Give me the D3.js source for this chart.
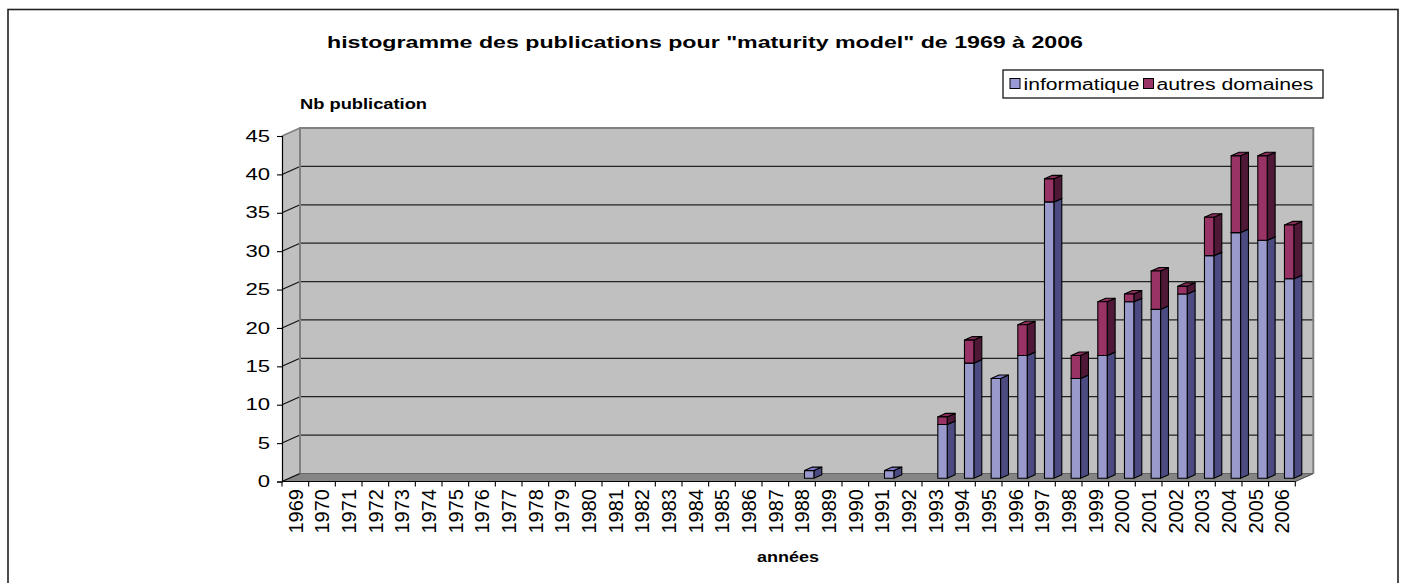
<!DOCTYPE html>
<html>
<head>
<meta charset="utf-8">
<script src="https://cdn.jsdelivr.net/npm/d3@7"></script>
<style>
  html, body { margin: 0; padding: 0; background: #fff; }
  svg { display: block; font-family: "Liberation Sans", Arial, sans-serif; }
</style>
</head>
<body>
<svg id="chart" width="1405" height="583"></svg>
<script>
// Publication counts for "maturity model", per year
const years = ["1969","1970","1971","1972","1973","1974","1975","1976","1977","1978",
  "1979","1980","1981","1982","1983","1984","1985","1986","1987","1988",
  "1989","1990","1991","1992","1993","1994","1995","1996","1997","1998",
  "1999","2000","2001","2002","2003","2004","2005","2006"];
const informatique = [0,0,0,0,0,0,0,0,0,0, 0,0,0,0,0,0,0,0,0,1,
  0,0,1,0,7,15,13,16,36,13, 16,23,22,24,29,32,31,26];
const autresDomaines = [0,0,0,0,0,0,0,0,0,0, 0,0,0,0,0,0,0,0,0,0,
  0,0,0,0,1,3,0,4,3,3, 7,1,5,1,5,10,11,7];
const yTicks = [0,5,10,15,20,25,30,35,40,45];
const seriesNames = ["informatique", "autres domaines"];

const svg = d3.select("#chart");

// colours of each series: front face, side face, top face
const palette = [
  { front: "#9999cc", side: "#4b4b82", top: "#7c7cc6", swatch: "#9999d6" },
  { front: "#993366", side: "#4f1836", top: "#8a2d5b", swatch: "#993366" }
];

// oblique depth of the 3D box
const DX = 18, DY = 8;
const x = d3.scaleBand().domain(years).range([282, 1295.3]);
const y = d3.scaleLinear().domain([0, 45]).range([481.5, 136]);
const x0 = x.range()[0], x1 = x.range()[1];

// outer frame
svg.append("rect")
  .attr("x", 8).attr("y", 9.5).attr("width", 1390).attr("height", 600)
  .attr("fill", "none").attr("stroke", "#222").attr("stroke-width", 1.6);

// title
svg.append("text")
  .attr("x", 327).attr("y", 47.5)
  .attr("font-size", 17).attr("font-weight", "bold")
  .attr("textLength", 756).attr("lengthAdjust", "spacingAndGlyphs")
  .text("histogramme des publications pour \"maturity model\" de 1969 à 2006");

// y axis title
svg.append("text")
  .attr("x", 300).attr("y", 109)
  .attr("font-size", 15).attr("font-weight", "bold")
  .attr("textLength", 127).attr("lengthAdjust", "spacingAndGlyphs")
  .text("Nb publication");

// x axis title
svg.append("text")
  .attr("x", 757).attr("y", 562)
  .attr("font-size", 15).attr("font-weight", "bold")
  .attr("textLength", 62).attr("lengthAdjust", "spacingAndGlyphs")
  .text("années");

// walls
const walls = svg.append("g");
// back wall
walls.append("rect")
  .attr("x", x0 + DX).attr("y", y(45) - DY)
  .attr("width", x1 - x0).attr("height", y(0) - y(45))
  .attr("fill", "#c0c0c0");
// side wall
walls.append("polygon")
  .attr("points", [[x0, y(45)], [x0 + DX, y(45) - DY], [x0 + DX, y(0) - DY], [x0, y(0)]].join(" "))
  .attr("fill", "#c0c0c0");
// floor
walls.append("polygon")
  .attr("points", [[x0, y(0)], [x0 + DX, y(0) - DY], [x1 + DX, y(0) - DY], [x1, y(0)]].join(" "))
  .attr("fill", "#858585").attr("stroke", "#666").attr("stroke-width", 1);

// gridlines on back wall and their continuation on the side wall
yTicks.filter(v => v > 0 && v < 45).forEach(v => {
  walls.append("line")
    .attr("x1", x0 + DX).attr("x2", x1 + DX)
    .attr("y1", y(v) - DY).attr("y2", y(v) - DY)
    .attr("stroke", "#222").attr("stroke-width", 1.2);
});
yTicks.forEach(v => {
  walls.append("line")
    .attr("x1", x0).attr("y1", y(v))
    .attr("x2", x0 + DX).attr("y2", y(v) - DY)
    .attr("stroke", v === 45 ? "#808080" : "#111").attr("stroke-width", v === 45 ? 1.6 : 1.1);
});

// wall edges
walls.append("path")
  .attr("d", `M${x0 + DX},${y(0) - DY}V${y(45) - DY}H${x1 + DX}V${y(0) - DY}`)
  .attr("fill", "none").attr("stroke", "#808080").attr("stroke-width", 2);

// bars
const bw = 9.4;          // front face width
const dFront = 0.4, dBack = 0.84;   // depth slice occupied by bars
const sdx = (dBack - dFront) * DX, sdy = (dBack - dFront) * DY;
const series = [informatique, autresDomaines];
const bars = svg.append("g").attr("stroke", "#000").attr("stroke-width", 1.1).attr("stroke-linejoin", "round");

years.forEach((yr, i) => {
  let base = 0;
  series.forEach((vals, s) => {
    const v = vals[i];
    if (v <= 0) return;
    const c = palette[s];
    const left = x(yr) + x.bandwidth() / 2 - bw / 2 + dFront * DX;
    const right = left + bw;
    const yb = y(base) - dFront * DY;
    const yt = y(base + v) - dFront * DY;
    const g = bars.append("g");
    // side face
    g.append("polygon")
      .attr("points", [[right, yb], [right + sdx, yb - sdy], [right + sdx, yt - sdy], [right, yt]].join(" "))
      .attr("fill", c.side);
    // top face
    g.append("polygon")
      .attr("points", [[left, yt], [right, yt], [right + sdx, yt - sdy], [left + sdx, yt - sdy]].join(" "))
      .attr("fill", c.top);
    // front face
    g.append("rect")
      .attr("x", left).attr("y", yt)
      .attr("width", bw).attr("height", yb - yt)
      .attr("fill", c.front);
    base += v;
  });
});

// floor front-right edge
svg.append("line")
  .attr("x1", x1).attr("y1", y(0)).attr("x2", x1 + DX).attr("y2", y(0) - DY)
  .attr("stroke", "#555").attr("stroke-width", 1);

// value axis
const yAxis = svg.append("g")
  .attr("transform", `translate(${x0},0)`)
  .call(d3.axisLeft(y).tickValues(yTicks).tickSize(5).tickPadding(7).tickFormat(d3.format("d")));
yAxis.select(".domain").attr("stroke", "#000").attr("stroke-width", 1.2);
yAxis.selectAll(".tick line").attr("stroke", "#000").attr("stroke-width", 1.1);
yAxis.selectAll(".tick text")
  .attr("font-family", "'Liberation Sans', Arial, sans-serif")
  .attr("font-size", 16).attr("fill", "#000")
  .attr("textLength", d => String(d).length * 12.3)
  .attr("lengthAdjust", "spacingAndGlyphs");

// category axis
const xAxis = svg.append("g");
xAxis.append("line")
  .attr("x1", x0).attr("x2", x1).attr("y1", y(0)).attr("y2", y(0))
  .attr("stroke", "#000").attr("stroke-width", 1.2);
years.concat(["end"]).forEach((yr, i) => {
  const px = i < years.length ? x(yr) : x1;
  xAxis.append("line")
    .attr("x1", px).attr("x2", px).attr("y1", y(0)).attr("y2", y(0) + 5)
    .attr("stroke", "#000").attr("stroke-width", 1.1);
});
xAxis.selectAll("text.year")
  .data(years)
  .join("text")
  .attr("class", "year")
  .attr("transform", d => `translate(${x(d) + x.bandwidth() / 2},489) rotate(-90)`)
  .attr("text-anchor", "end")
  .attr("dy", "0.36em")
  .attr("font-size", 20)
  .attr("fill", "#000")
  .text(d => d);

// legend
const legend = svg.append("g");
legend.append("rect")
  .attr("x", 1003).attr("y", 70).attr("width", 320).attr("height", 28)
  .attr("fill", "#fff").attr("stroke", "#000").attr("stroke-width", 1.2);
const legendItems = [
  { name: seriesNames[0], sx: 1010, tx: 1023.5, tw: 116, color: palette[0].swatch },
  { name: seriesNames[1], sx: 1143.5, tx: 1156.5, tw: 157, color: palette[1].swatch }
];
legendItems.forEach(it => {
  legend.append("rect")
    .attr("x", it.sx).attr("y", 78.5).attr("width", 10).attr("height", 10)
    .attr("fill", it.color).attr("stroke", "#000").attr("stroke-width", 1);
  legend.append("text")
    .attr("x", it.tx).attr("y", 89.5)
    .attr("font-size", 16).attr("fill", "#000")
    .attr("textLength", it.tw).attr("lengthAdjust", "spacingAndGlyphs")
    .text(it.name);
});
</script>
</body>
</html>
